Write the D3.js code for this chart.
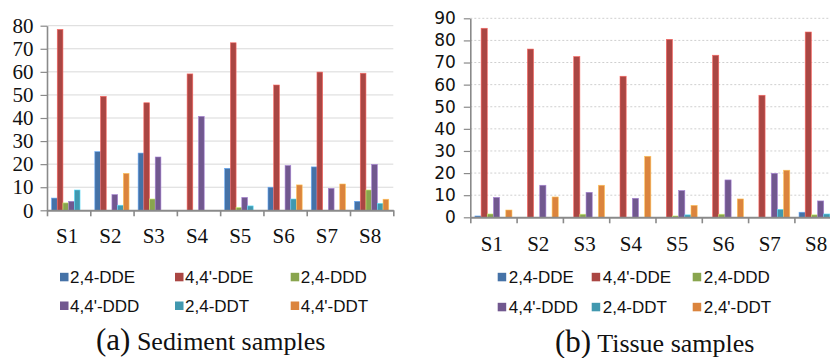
<!DOCTYPE html>
<html>
<head>
<meta charset="utf-8">
<script src="https://cdn.jsdelivr.net/npm/d3@7"></script>
<style>
  body { margin: 0; background: #fff; }
  svg { display: block; }
</style>
</head>
<body>
<svg id="chart" width="830" height="358"></svg>
<script>
// categories
const samples = ['S1', 'S2', 'S3', 'S4', 'S5', 'S6', 'S7', 'S8'];

// (a) sediment samples
const sedimentNames = ['2,4-DDE', "4,4'-DDE", '2,4-DDD', "4,4'-DDD", '2,4-DDT', "4,4'-DDT"];
const sed24DDE  = [5.3, 25.4, 24.8, 0, 18.2, 10.0, 18.8, 3.9];
const sed44DDE  = [78.4, 49.4, 46.6, 59.1, 72.6, 54.3, 59.9, 59.4];
const sed24DDD  = [3.2, 0, 4.9, 0, 1.2, 0, 0, 8.8];
const sed44DDD  = [3.9, 6.8, 23.1, 40.7, 5.6, 19.4, 9.5, 19.9];
const sed24DDT  = [8.8, 2.2, 0, 0, 1.9, 4.9, 0, 3.0];
const sed44DDT  = [0, 16.0, 0, 0, 0, 11.0, 11.4, 4.8];
const sedimentTicks = [0, 10, 20, 30, 40, 50, 60, 70, 80];

// (b) tissue samples
const tissueNames = ['2,4-DDE', "4,4'-DDE", '2,4-DDD', "4,4'-DDD", '2,4-DDT', "2,4'-DDT"];
const tis24DDE  = [0.6, 0, 0, 0, 0, 0, 0, 2.3];
const tis44DDE  = [85.5, 76.1, 72.7, 63.8, 80.5, 73.3, 55.2, 83.8];
const tis24DDD  = [1.5, 0, 1.4, 0, 0.6, 1.4, 0, 1.1];
const tis44DDD  = [9.0, 14.5, 11.3, 8.6, 12.1, 16.9, 19.9, 7.4];
const tis24DDT  = [0, 0, 0, 0, 1.1, 0, 3.6, 1.5];
const tis24pDDT = [3.3, 9.2, 14.5, 27.6, 5.4, 8.3, 21.3, 0];
const tissueTicks = [0, 10, 20, 30, 40, 50, 60, 70, 80, 90];

const colors = ['#4572A7', '#AA4643', '#89A54E', '#71588F', '#4198AF', '#DB843D'];
const axisColor = '#8a8a8a';

const svg = d3.select('#chart');

function drawPanel(cfg) {
  const g = svg.append('g');

  const x0 = d3.scaleBand().domain(samples).range([cfg.left, cfg.right]).paddingInner(0).paddingOuter(0);
  const pad = x0.bandwidth() * cfg.groupPad;
  const x1 = d3.scaleBand().domain(d3.range(cfg.names.length)).range([pad, x0.bandwidth() - pad]);
  const xb = d3.scaleLinear().domain([0, samples.length]).range([cfg.left, cfg.right]);
  const y = d3.scaleLinear().domain([0, cfg.ticks[cfg.ticks.length - 1]]).range([cfg.bottom, cfg.top]);

  // gridlines
  g.append('g')
    .selectAll('line')
    .data(cfg.ticks.filter(d => d > 0))
    .join('line')
    .attr('x1', cfg.left).attr('x2', cfg.right)
    .attr('y1', d => y(d)).attr('y2', d => y(d))
    .attr('stroke', cfg.gridColor)
    .attr('stroke-width', 1)
    .attr('stroke-dasharray', cfg.gridDash);

  // bars
  const groups = g.append('g')
    .selectAll('g')
    .data(samples)
    .join('g')
    .attr('transform', d => `translate(${x0(d)},0)`);

  groups.selectAll('rect')
    .data((d, i) => cfg.values.map((arr, k) => ({ k, v: arr[i] })).filter(o => o.v > 0))
    .join('rect')
    .attr('x', d => x1(d.k))
    .attr('width', x1.bandwidth())
    .attr('y', d => y(d.v))
    .attr('height', d => y(0) - y(d.v))
    .attr('fill', d => colors[d.k])
    .attr('stroke', d => d3.color(colors[d.k]).brighter(1.1))
    .attr('stroke-width', 0.6);

  // y axis
  const yAxis = g.append('g')
    .attr('transform', `translate(${cfg.left},0)`)
    .call(d3.axisLeft(y).tickValues(cfg.ticks).tickSize(6.5).tickPadding(cfg.yPad).tickSizeOuter(0));
  yAxis.attr('font-family', null);
  yAxis.select('.domain').attr('stroke', axisColor).attr('stroke-width', 1.6);
  yAxis.selectAll('.tick line').attr('stroke', axisColor).attr('stroke-width', 1.2);
  yAxis.selectAll('.tick text')
    .attr('fill', '#111')
    .style('font-family', cfg.yFont)
    .style('font-size', cfg.yFontSize + 'px');

  // x axis boundaries
  const xAxis = g.append('g')
    .attr('transform', `translate(0,${cfg.bottom})`)
    .call(d3.axisBottom(xb).tickValues(d3.range(samples.length + 1)).tickSize(6).tickFormat('').tickSizeOuter(0));
  xAxis.select('.domain').attr('stroke', axisColor).attr('stroke-width', 2);
  xAxis.selectAll('.tick line').attr('stroke', axisColor).attr('stroke-width', 1.6);

  // category labels
  g.append('g')
    .selectAll('text')
    .data(samples)
    .join('text')
    .attr('x', d => x0(d) + x0.bandwidth() / 2 + cfg.labelShift)
    .attr('y', cfg.bottom + cfg.labelDrop)
    .attr('text-anchor', 'middle')
    .style('font-family', '"Liberation Serif", "Times New Roman", serif')
    .style('font-size', '21px')
    .attr('fill', '#111')
    .text(d => d);

  // legend
  const leg = g.append('g')
    .selectAll('g')
    .data(cfg.names)
    .join('g')
    .attr('transform', (d, i) => `translate(${cfg.legCols[i % 3]},${cfg.legRows[Math.floor(i / 3)]})`);
  leg.append('rect')
    .attr('x', 0).attr('y', -4.5)
    .attr('width', 8.5).attr('height', 8.5)
    .attr('fill', (d, i) => colors[i]);
  leg.append('text')
    .attr('x', cfg.legGap)
    .attr('y', 6)
    .style('font-family', '"Liberation Sans", Arial, sans-serif')
    .style('font-size', '17px')
    .attr('fill', '#111')
    .text(d => d);

  // caption
  const cap = g.append('text')
    .attr('x', cfg.capX)
    .attr('y', cfg.capY)
    .style('font-family', '"Liberation Serif", "Times New Roman", serif')
    .attr('fill', '#111');
  cap.append('tspan').style('font-size', '31px').text(cfg.capTag);
  cap.append('tspan').style('font-size', '26px').text(' ' + cfg.capText);
}

drawPanel({
  left: 47, right: 393.3, top: 25.7, bottom: 210.3,
  groupPad: 0.105,
  ticks: sedimentTicks,
  names: sedimentNames,
  values: [sed24DDE, sed44DDE, sed24DDD, sed44DDD, sed24DDT, sed44DDT],
  gridColor: '#d9d9d9', gridDash: null,
  yFont: '"Liberation Serif", "Times New Roman", serif', yFontSize: 21, yPad: 7,
  labelShift: -1.5, labelDrop: 33,
  legCols: [60, 175, 290.7], legRows: [277.3, 306], legGap: 10,
  capX: 96, capY: 350, capTag: '(a)', capText: 'Sediment samples'
});

drawPanel({
  left: 470.3, right: 840.7, top: 18.3, bottom: 217.3,
  groupPad: 0.1,
  ticks: tissueTicks,
  names: tissueNames,
  values: [tis24DDE, tis44DDE, tis24DDD, tis44DDD, tis24DDT, tis24pDDT],
  gridColor: '#cfcfcf', gridDash: '2,2',
  yFont: '"DejaVu Sans", Verdana, sans-serif', yFontSize: 17, yPad: 8,
  labelShift: -1.5, labelDrop: 33.4,
  legCols: [497.7, 591.7, 692.7], legRows: [277.3, 307.3], legGap: 11,
  capX: 555, capY: 351.7, capTag: '(b)', capText: 'Tissue samples'
});
</script>
</body>
</html>
